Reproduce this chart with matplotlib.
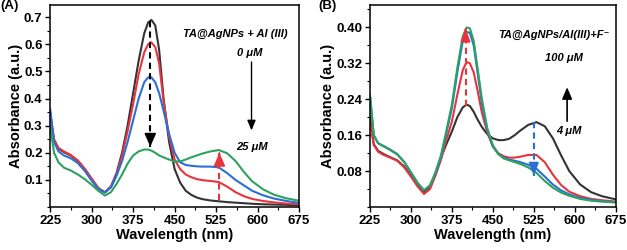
import matplotlib
matplotlib.use("Agg")
import matplotlib.pyplot as plt
from matplotlib.ticker import MultipleLocator, FormatStrFormatter

plt.rcParams['font.family'] = ['Liberation Sans', 'DejaVu Sans']
plt.rcParams['font.weight'] = 'bold'

# wavelength grid (nm)
wl = [225, 232, 240, 250, 262, 275, 288, 300, 312, 324, 335, 345, 355, 365, 375,
      385, 395, 402, 408, 415, 422, 430, 440, 450, 460, 470, 480, 490, 500, 515,
      530, 545, 560, 575, 590, 610, 630, 650, 675]

# (A) TA@AgNPs + Al(III)
a_black = [0.345, 0.245, 0.215, 0.202, 0.19, 0.17, 0.138, 0.103, 0.069, 0.054, 0.076, 0.125, 0.2, 0.3, 0.42,
           0.54, 0.64, 0.68, 0.69, 0.67, 0.58, 0.40, 0.24, 0.14, 0.09, 0.06, 0.045, 0.035, 0.029, 0.024,
           0.021, 0.018, 0.016, 0.014, 0.012, 0.010, 0.009, 0.008, 0.006]
a_red = [0.35, 0.25, 0.218, 0.205, 0.192, 0.172, 0.14, 0.105, 0.07, 0.054, 0.075, 0.12, 0.19, 0.28, 0.38,
         0.49, 0.57, 0.60, 0.607, 0.59, 0.53, 0.39, 0.26, 0.175, 0.14, 0.12, 0.11, 0.103, 0.099, 0.096,
         0.092, 0.075, 0.055, 0.04, 0.03, 0.022, 0.017, 0.013, 0.01]
a_blue = [0.36, 0.24, 0.205, 0.19, 0.18, 0.162, 0.132, 0.097, 0.066, 0.054, 0.072, 0.115, 0.17, 0.24, 0.32,
          0.40, 0.46, 0.478, 0.478, 0.46, 0.42, 0.355, 0.27, 0.2, 0.165, 0.155, 0.152, 0.15, 0.149, 0.149,
          0.146, 0.125, 0.1, 0.08, 0.06, 0.043, 0.031, 0.023, 0.015]
a_green = [0.30, 0.2, 0.165, 0.145, 0.135, 0.12, 0.102, 0.082, 0.06, 0.042, 0.055, 0.085, 0.12, 0.16, 0.19,
           0.205, 0.212, 0.212, 0.208, 0.2, 0.19, 0.183, 0.175, 0.168, 0.168, 0.175, 0.183, 0.19, 0.197, 0.205,
           0.21, 0.198, 0.17, 0.13, 0.095, 0.065, 0.045, 0.033, 0.023]

# (B) TA@AgNPs/Al(III) + F-
b_black = [0.20, 0.14, 0.125, 0.118, 0.111, 0.104, 0.09, 0.07, 0.05, 0.033, 0.045, 0.075, 0.11, 0.14, 0.168,
           0.2, 0.222, 0.228, 0.225, 0.212, 0.195, 0.178, 0.162, 0.153, 0.149, 0.149, 0.152, 0.16, 0.17, 0.183,
           0.189, 0.18, 0.153, 0.115, 0.08, 0.05, 0.033, 0.024, 0.017]
b_red = [0.195, 0.138, 0.123, 0.116, 0.11, 0.103, 0.088, 0.068, 0.046, 0.029, 0.04, 0.07, 0.105, 0.15, 0.19,
         0.25, 0.305, 0.323, 0.32, 0.3, 0.26, 0.21, 0.165, 0.135, 0.12, 0.113, 0.11, 0.11, 0.112, 0.116,
         0.116, 0.1, 0.072, 0.049, 0.034, 0.024, 0.018, 0.015, 0.012]
b_blue = [0.25, 0.16, 0.142, 0.136, 0.128, 0.118, 0.1, 0.077, 0.054, 0.037, 0.048, 0.075, 0.11, 0.165, 0.22,
          0.3, 0.37, 0.39, 0.388, 0.36, 0.3, 0.23, 0.17, 0.135, 0.118, 0.11, 0.106, 0.103, 0.1, 0.094,
          0.085, 0.068, 0.05, 0.037, 0.028, 0.02, 0.016, 0.013, 0.011]
b_green = [0.25, 0.16, 0.142, 0.135, 0.127, 0.117, 0.1, 0.077, 0.054, 0.037, 0.048, 0.077, 0.115, 0.17, 0.228,
           0.31, 0.38, 0.40, 0.398, 0.37, 0.31, 0.24, 0.175, 0.138, 0.118, 0.108, 0.104, 0.1, 0.096, 0.088,
           0.076, 0.058, 0.043, 0.032, 0.025, 0.018, 0.014, 0.012, 0.01]

BLACK, RED, BLUE, GREEN = '#333333', '#e8343c', '#2a6fd8', '#2ca25f'


def dashed_arrow(ax, x, y0, y1, color, hw=0.35):
    ax.plot([x, x], [y0, y1], ls=(0, (3, 2)), color=color, lw=1.5, zorder=5)
    ax.annotate('', xy=(x, y1), xytext=(x, y1 - (y1 - y0) * 0.02),
                arrowprops=dict(arrowstyle=f'-|>,head_width={hw},head_length=0.8',
                                color=color, lw=1.2), zorder=6)


def style(ax, ylim, ymaj, fmt):
    ax.set_xlim(225, 675)
    ax.set_ylim(*ylim)
    ax.xaxis.set_major_locator(MultipleLocator(75))
    ax.xaxis.set_minor_locator(MultipleLocator(37.5))
    ax.yaxis.set_major_locator(MultipleLocator(ymaj))
    ax.yaxis.set_minor_locator(MultipleLocator(ymaj / 2))
    ax.yaxis.set_major_formatter(FormatStrFormatter(fmt))
    ax.tick_params(which='major', length=3.5, width=1, labelsize=9.5, pad=2)
    ax.tick_params(which='minor', length=2, width=0.8)
    for s in ax.spines.values():
        s.set_linewidth(1.1)
    ax.set_xlabel('Wavelength (nm)', fontsize=10.5, fontweight='bold', labelpad=1)
    ax.set_ylabel('Absorbance (a.u.)', fontsize=10.5, fontweight='bold', labelpad=1)


fig = plt.figure(figsize=(6.27, 2.5), dpi=100)
axA = fig.add_axes([0.080, 0.172, 0.397, 0.808])
axB = fig.add_axes([0.590, 0.172, 0.392, 0.808])

lw = 1.5
itxt = dict(ha='center', va='center', fontsize=8, fontweight='bold', style='italic')
# panel A
axA.plot(wl, a_black, color=BLACK, lw=lw)
axA.plot(wl, a_red, color=RED, lw=lw)
axA.plot(wl, a_blue, color=BLUE, lw=lw)
axA.plot(wl, a_green, color=GREEN, lw=lw)
style(axA, (0.0, 0.745), 0.1, '%.1f')
axA.set_yticks([0.1, 0.2, 0.3, 0.4, 0.5, 0.6, 0.7])
dashed_arrow(axA, 406, 0.685, 0.222, 'black')
dashed_arrow(axA, 531, 0.027, 0.20, RED)
axA.annotate('', xy=(589, 0.272), xytext=(589, 0.545),
             arrowprops=dict(arrowstyle='-|>,head_width=0.25,head_length=0.6', color='black', lw=1.0))
axA.text(560, 0.64, 'TA@AgNPs + Al (III)', **itxt)
axA.text(586, 0.568, '0 μM', **itxt)
axA.text(590, 0.222, '25 μM', **itxt)

# panel B
axB.plot(wl, b_black, color=BLACK, lw=lw)
axB.plot(wl, b_red, color=RED, lw=lw)
axB.plot(wl, b_blue, color=BLUE, lw=lw)
axB.plot(wl, b_green, color=GREEN, lw=lw)
style(axB, (0.0, 0.45), 0.08, '%.2f')
axB.set_yticks([0.08, 0.16, 0.24, 0.32, 0.40])
dashed_arrow(axB, 400, 0.224, 0.398, RED, hw=0.3)
dashed_arrow(axB, 525, 0.189, 0.069, BLUE, hw=0.3)
axB.annotate('', xy=(586, 0.273), xytext=(586, 0.185),
             arrowprops=dict(arrowstyle='-|>,head_width=0.3,head_length=0.7', color='black', lw=1.2))
axB.text(562, 0.384, 'TA@AgNPs/Al(III)+F⁻', **itxt)
axB.text(580, 0.333, '100 μM', **itxt)
axB.text(590, 0.169, '4 μM', **itxt)

fig.text(0.0, 0.998, '(A)', ha='left', va='top', fontsize=9.5, fontweight='bold')
fig.text(0.508, 0.998, '(B)', ha='left', va='top', fontsize=9.5, fontweight='bold')

fig.savefig('out.png', dpi=100)
